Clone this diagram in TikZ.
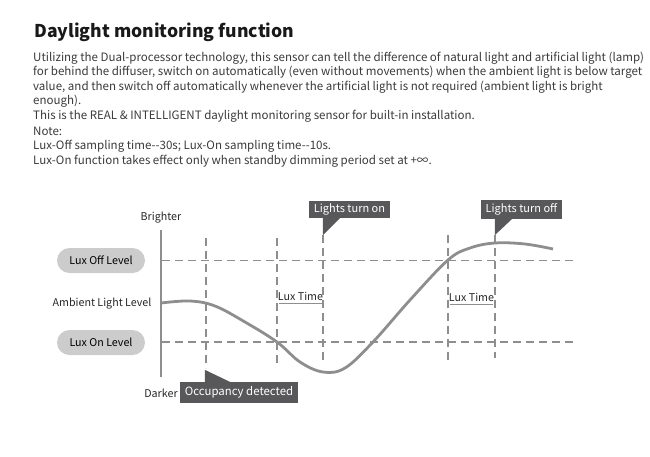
\documentclass[tikz,border=0pt]{standalone}
\usepackage{fontspec}
\setmainfont{Noto Sans CJK SC}
\usetikzlibrary{positioning}

\definecolor{linegray}{HTML}{8E8E8E}
\definecolor{boxgray}{HTML}{58585A}
\definecolor{pillgray}{HTML}{CCCCCC}
\definecolor{textgray}{HTML}{3A3A3A}

\tikzset{
  bodyline/.style={anchor=base west, inner sep=0pt, text=textgray,
    font=\fontsize{11.55}{14}\selectfont},
  levelpill/.style={fill=pillgray, rounded corners=12.5pt, minimum width=88pt,
    minimum height=25pt, inner sep=0pt, font=\fontsize{10.7}{12}\selectfont},
  callout/.style={fill=boxgray, text=white, inner sep=0pt,
    font=\fontsize{11}{12}\selectfont},
  gridline/.style={linegray, line width=1.7pt, dash pattern=on 8pt off 5pt},
  axislabel/.style={inner sep=0pt, text=black!85, font=\fontsize{10.7}{12}\selectfont},
}

\begin{document}
\begin{tikzpicture}[x=1pt, y=-1pt]
  \useasboundingbox (0,0) rectangle (650,456);

  % Heading and text
  \node[anchor=base west, inner sep=0pt, text=black!90,
    font=\fontsize{17.6}{20}\bfseries] (title) at (34,37) {Daylight monitoring function};
  \node[bodyline] (l1) at (33,61) {Utilizing the Dual-processor technology, this sensor can tell the difference of natural light and artificial light (lamp)};
  \node[bodyline] (l2) at (33,75.5) {for behind the diffuser, switch on automatically (even without movements) when the ambient light is below target};
  \node[bodyline] (l3) at (33,90) {value, and then switch off automatically whenever the artificial light is not required (ambient light is bright};
  \node[bodyline] (l4) at (33,104.5) {enough).};
  \node[bodyline] (l5) at (33,119) {This is the REAL \& INTELLIGENT daylight monitoring sensor for built-in installation.};
  \node[bodyline] (l6) at (33,135) {Note:};
  \node[bodyline] (l7) at (33,149.5) {Lux-Off sampling time-{}-30s; Lux-On sampling time-{}-10s.};
  \node[bodyline] (l8) at (33,164) {Lux-On function takes effect only when standby dimming period set at +∞.};

  % Axis and levels
  \coordinate (axtop) at (161,230);
  \coordinate (axbot) at (161,377);
  \draw[linegray, line width=2.6pt] (axtop) -- (axbot);
  \node[axislabel] (brighter) at (161,218) {Brighter};
  \node[axislabel] (darker) at (161,393) {Darker};
  \node[axislabel] (ambient) at (102,304) {Ambient Light Level};
  \node[levelpill] (luxoff) at (101,260.5) {Lux Off Level};
  \node[levelpill] (luxon) at (101,342.5) {Lux On Level};

  \draw[gridline] (162,260.5) -- (573,260.5);
  \draw[gridline] (162,342) -- (573,342);
  \foreach \x/\ya/\yb in {206/238/368, 277/238/367, 323/235/360, 448/235/360, 495/235/358}
    \draw[gridline] (\x,\ya) -- (\x,\yb);

  % Light level curve
  \draw[linegray, line width=2.8pt] plot[smooth, tension=0.6] coordinates {
    (161,303) (190,301) (215,306) (245,322) (277,342) (300,362) (323,372)
    (345,368) (373,342) (410,300) (448,260) (470,248) (495,243) (525,244) (553,249)};

  % Lux time marks
  \node[axislabel] (luxtimea) at (300.5,296) {Lux Time};
  \draw[linegray, line width=0.6pt] (279,303) -- (322,303);
  \node[axislabel] (luxtimeb) at (471.5,297) {Lux Time};
  \draw[linegray, line width=0.6pt] (450,304) -- (493,304);

  % Callouts
  \node[callout, minimum width=81pt, minimum height=17pt] (turnon) at (349.5,209.5) {Lights turn on};
  \fill[boxgray] ([xshift=14pt]turnon.south west) -- ++(17,0) -- ++(-17,17) -- cycle;
  \node[callout, minimum width=81pt, minimum height=19pt] (turnoff) at (521.5,209.5) {Lights turn off};
  \fill[boxgray] ([xshift=14pt]turnoff.south west) -- ++(17,0) -- ++(-17,16) -- cycle;
  \node[callout, minimum width=118pt, minimum height=21pt,
    font=\fontsize{11.4}{14}\selectfont] (occupancy) at (239,392.5) {Occupancy detected};
  \fill[boxgray] ([xshift=25pt]occupancy.north west) -- ++(0,-12) -- ++(25,12) -- cycle;
\end{tikzpicture}
\end{document}
